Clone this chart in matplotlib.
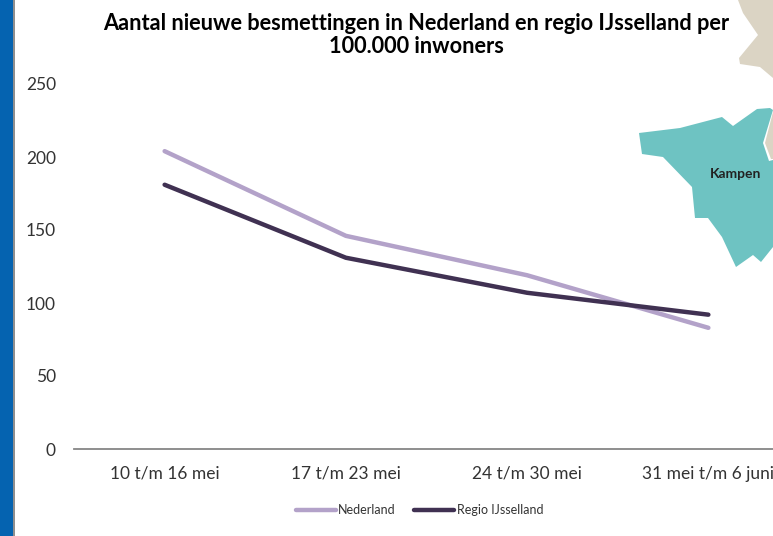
import matplotlib
matplotlib.use('Agg')
import matplotlib.pyplot as plt
from matplotlib.patches import Polygon, Rectangle

W, H = 773, 536

# data
weeks = ['10 t/m 16 mei', '17 t/m 23 mei', '24 t/m 30 mei', '31 mei t/m 6 juni']
nederland = [204, 146, 119, 83]
ijsselland = [181, 131, 107, 92]
yticks = [0, 50, 100, 150, 200, 250]

# map pieces behind the chart, pixel outline
kampen = [(639, 133), (680, 128), (722, 117), (733, 126), (757, 109), (770, 108), (773, 110),
          (763, 143), (769, 161), (773, 160), (773, 247), (761, 262), (753, 255), (736, 267),
          (722, 237), (708, 218), (695, 218), (692, 187), (663, 157), (642, 154)]
land_top = [(738, 0), (743, 13), (758, 35), (739, 58), (740, 64), (760, 67), (773, 78), (773, 0)]
land_mid = [(773, 112), (765, 143), (771, 159), (773, 159)]

plt.rcParams['font.family'] = ['Lato', 'DejaVu Sans']


def px(points):
    return [(x / W, 1 - y / H) for x, y in points]


fig = plt.figure(figsize=(W / 100, H / 100), dpi=100, facecolor='white')

# blue strip on the left
fig.add_artist(Rectangle((0, 0), 13 / W, 1, transform=fig.transFigure, color='#0563B0', lw=0))
fig.add_artist(Rectangle((13 / W, 0), 2 / W, 1, transform=fig.transFigure, color='#8F8F8F', lw=0))

# map
fig.add_artist(Polygon(px(land_top), closed=True, transform=fig.transFigure, fc='#DBD4C4', ec='none'))
fig.add_artist(Polygon(px(land_mid), closed=True, transform=fig.transFigure, fc='#DBD4C4', ec='none'))
fig.add_artist(Polygon(px(kampen), closed=True, transform=fig.transFigure, fc='#6EC3C2', ec='none'))
fig.text(735.5 / W, 1 - 174 / H, 'Kampen', fontsize=10, fontweight='bold', color='#222222',
         ha='center', va='center')

# axes run past the right edge of the picture, like the cropped original
ax = fig.add_axes([74 / W, 1 - 449 / H, 725 / W, 365 / H])
ax.patch.set_alpha(0)
x = range(len(weeks))
ax.plot(x, nederland, color='#B3A2C9', lw=3.2, label='Nederland', solid_capstyle='round')
ax.plot(x, ijsselland, color='#403152', lw=3.2, label='Regio IJsselland', solid_capstyle='round')

ax.set_xlim(-0.5, 3.5)
ax.set_ylim(0, 250)
ax.set_xticks(list(x))
ax.set_xticklabels(weeks, fontsize=12.5, color='#333333')
ax.set_yticks(yticks)
ax.tick_params(axis='y', labelsize=12.5, labelcolor='#333333', length=0, pad=13)
ax.tick_params(axis='x', length=0, pad=12)
for name in ['top', 'right', 'left']:
    ax.spines[name].set_visible(False)
ax.spines['bottom'].set_color('#868686')
ax.spines['bottom'].set_linewidth(1.3)

fig.text(416 / W, 1 - 35 / H, 'Aantal nieuwe besmettingen in Nederland en regio IJsselland per\n100.000 inwoners',
         fontsize=15.7, fontweight='bold', color='black', ha='center', va='center', linespacing=1.15)

fig.legend(loc='center', bbox_to_anchor=(419.5 / W, 1 - 510 / H), ncol=2, frameon=False, fontsize=9,
           handlelength=3.2, handletextpad=0.2, columnspacing=1.5, labelcolor='#333333')

fig.savefig('out.png', dpi=100)
